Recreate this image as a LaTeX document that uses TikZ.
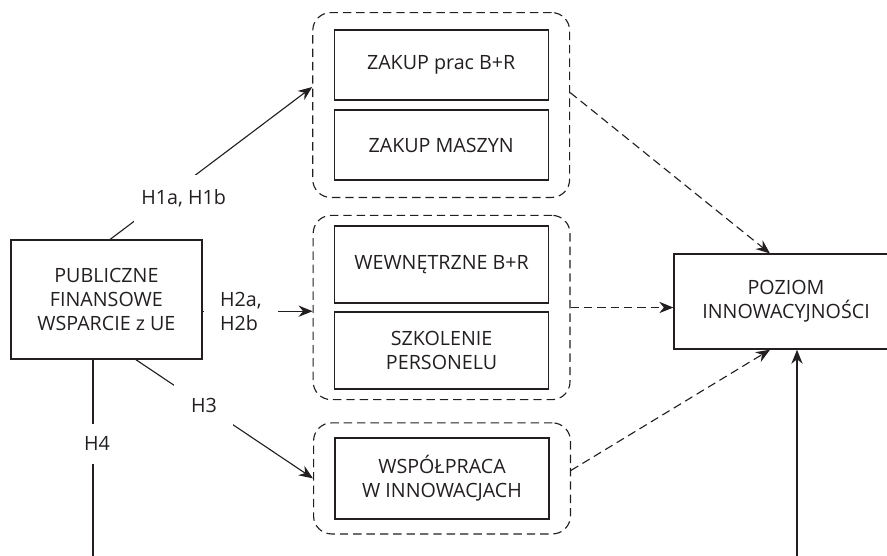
\documentclass[tikz,border=0pt]{standalone}
\usepackage{fontspec}
\setmainfont{Open Sans}
\usetikzlibrary{arrows.meta,fit}
\definecolor{ink}{HTML}{231F20}

\begin{document}
\begin{tikzpicture}[
    box/.style={draw=ink, line width=0.9pt, align=center, minimum width=5.35cm, inner sep=2pt, text=ink},
    group/.style={draw=ink, line width=0.8pt, dash pattern=on 6pt off 3.5pt, rounded corners=0.45cm, inner xsep=0.52cm},
    conn/.style={draw=ink, line width=0.8pt, -{Stealth[length=10pt,width=8pt]}},
    dconn/.style={conn, dash pattern=on 6pt off 3.5pt},
    lab/.style={fill=white, inner sep=0pt, align=left, text=ink},
    font=\fontsize{14}{17}\selectfont
]
    \clip (0,0) rectangle (22.175,-13.875);

    \node[box, minimum width=4.775cm, minimum height=2.975cm] (pub) at (2.66,-7.49) {PUBLICZNE\\FINANSOWE\\WSPARCIE z UE};

    \node[box, minimum height=1.75cm]  (zakup1) at (11.03,-1.625)  {ZAKUP prac B+R};
    \node[box, minimum height=1.75cm]  (zakup2) at (11.03,-3.625)  {ZAKUP MASZYN};
    \node[box, minimum height=1.925cm] (wew)    at (11.04,-6.6125) {WEWNĘTRZNE B+R};
    \node[box, minimum height=1.925cm] (szk)    at (11.04,-8.7625) {SZKOLENIE\\PERSONELU};
    \node[box, minimum height=2.025cm] (wsp)    at (11.05,-11.96)  {WSPÓŁPRACA\\W INNOWACJACH};

    \node[box, minimum width=5.6cm, minimum height=2.375cm] (poz) at (19.65,-7.54) {POZIOM\\INNOWACYJNOŚCI};

    % dashed groups
    \node[group, inner ysep=0.42cm, fit=(zakup1)(zakup2)] (g1) {};
    \node[group, inner ysep=0.25cm, fit=(wew)(szk)] (g2) {};
    \node[group, inner ysep=0.36cm, fit=(wsp)] (g3) {};

    \coordinate (h2a)   at ([yshift=-0.29cm]pub.east);
    \coordinate (h4end) at (2.325,-14);
    \coordinate (base)  at (19.925,-14);

    % hypotheses
    \draw[conn] ([xshift=0.09cm]pub.north) -- node[lab, pos=0.364, yshift=-0.36cm, minimum width=2.5cm, minimum height=1.175cm] {H1a, H1b} ([yshift=0.45cm]g1.west);
    \draw[conn] (h2a) -- node[lab, pos=0.348, minimum width=1.85cm, minimum height=1.2cm] {H2a,\\H2b} (h2a -| g2.west);
    \draw[conn] ([xshift=0.74cm]pub.south) -- node[lab, pos=0.384, minimum width=1.475cm, minimum height=1.075cm] {H3} (g3.west);
    \draw[draw=ink, line width=0.8pt] (pub.south -| h4end) -- node[lab, pos=0.42, xshift=0.1cm, minimum height=1cm] {H4} (h4end);

    % effects
    \draw[dconn] ([yshift=0.31cm]g1.east) -- ([xshift=-0.4cm]poz.north);
    \draw[dconn] (g2.east) -- (g2.east -| poz.west);
    \draw[dconn] ([yshift=0.2cm]g3.east) -- ([xshift=-0.4cm]poz.south);
    \draw[conn] (base) -- (base |- poz.south);
\end{tikzpicture}
\end{document}
